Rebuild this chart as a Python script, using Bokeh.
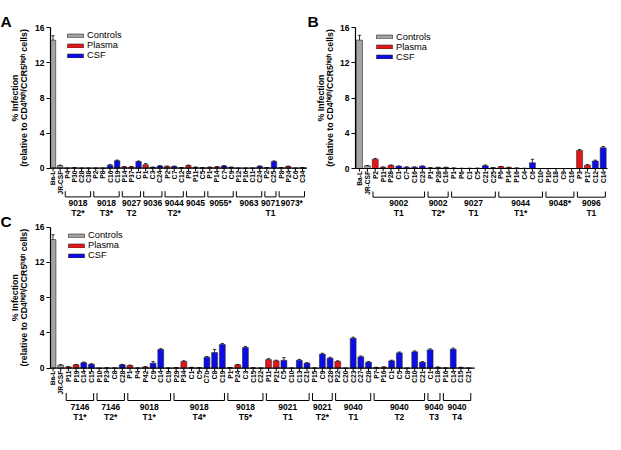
import math
from bokeh.plotting import figure
from bokeh.models import ColumnDataSource, Range1d, FixedTicker
from bokeh.layouts import column, row
from bokeh.embed import file_html
from bokeh.resources import INLINE
from bokeh.core.properties import value

# ---------------- data ----------------
a_labels = ["Ba-L", "JR-CSF",
            "P4", "P30", "C28", "C38",
            "P2", "P8", "C16", "C19",
            "P14", "P37", "C1",
            "P1", "C3", "C24",
            "P2", "C7", "C12",
            "P8", "P11", "C5",
            "P1", "P14", "C7", "C9",
            "P12", "P16", "C11", "C24",
            "P2", "C25",
            "P8", "P24", "C6", "C34"]
a_values = [14.6, 0.3,
            0.0, 0.05, 0.0, 0.0,
            0.0, 0.0, 0.35, 0.85,
            0.15, 0.15, 0.75,
            0.4, 0.1, 0.25,
            0.2, 0.2, 0.05,
            0.3, 0.1, 0.05,
            0.1, 0.15, 0.25, 0.1,
            0.0, 0.0, 0.0, 0.22,
            0.05, 0.75,
            0.05, 0.2, 0.0, 0.05]
a_errors = [0.5, 0.05,
            0.0, 0.02, 0.0, 0.0,
            0.0, 0.0, 0.06, 0.08,
            0.04, 0.04, 0.07,
            0.12, 0.03, 0.05,
            0.05, 0.04, 0.02,
            0.05, 0.03, 0.02,
            0.03, 0.04, 0.05, 0.03,
            0.0, 0.0, 0.0, 0.04,
            0.02, 0.08,
            0.02, 0.04, 0.0, 0.02]
a_groups = [("9018", "T2*", 4), ("9018", "T3*", 4), ("9027", "T2", 3),
            ("9036", "", 3), ("9044", "T2*", 3), ("9045", "", 3),
            ("9055*", "", 4), ("9063", "", 4), ("9071", "T1", 2),
            ("9073*", "", 4)]

b_labels = ["Ba-L", "JR-CSF",
            "P2", "P11", "P28", "C1", "C7", "C16", "C23",
            "P1", "P28", "C16",
            "P1", "P6", "C1", "C5", "C21", "C25",
            "P6", "P14", "P16", "C4", "C6", "C10",
            "P10", "C18", "C9", "C16",
            "P3", "P17", "C12", "C14"]
b_values = [14.6, 0.3,
            1.05, 0.15, 0.35, 0.25, 0.15, 0.15, 0.25,
            0.08, 0.12, 0.12,
            0.05, 0.02, 0.02, 0.03, 0.3, 0.08,
            0.2, 0.12, 0.05, 0.02, 0.65, 0.0,
            0.0, 0.0, 0.0, 0.0,
            2.05, 0.38, 0.85, 2.35]
b_errors = [0.55, 0.05,
            0.1, 0.03, 0.05, 0.04, 0.03, 0.03, 0.04,
            0.02, 0.02, 0.02,
            0.02, 0.0, 0.0, 0.01, 0.1, 0.02,
            0.04, 0.03, 0.02, 0.0, 0.4, 0.0,
            0.0, 0.0, 0.0, 0.0,
            0.1, 0.06, 0.1, 0.15]
b_groups = [("9002", "T1", 7), ("9002", "T2*", 3), ("9027", "T1", 6),
            ("9044", "T1*", 6), ("9048*", "", 4), ("9096", "T1", 4)]

c_labels = ["Ba-L", "JR-CSF",
            "P11", "P19", "C14", "C15",
            "P10", "P23", "C8", "C28",
            "P1", "P4", "P42", "C9", "C14", "C19",
            "P29", "P34", "C1", "C5", "C7b", "C8", "C19",
            "P1", "P24", "C3", "C15", "C22",
            "P11", "P21", "C5", "C10", "C13", "C21",
            "P15", "C9", "C28",
            "P22", "C20", "C23", "C27", "C28",
            "P7", "P16", "C1", "C5", "C8", "C10", "C21",
            "C1", "C18",
            "P16", "C14", "C15", "C21"]
c_values = [14.6, 0.35,
            0.15, 0.38, 0.62, 0.45,
            0.0, 0.03, 0.02, 0.38,
            0.3, 0.02, 0.15, 0.57, 2.12, 0.02,
            0.05, 0.76, 0.08, 0.05, 1.25, 1.78, 2.69,
            0.06, 0.38, 2.35, 0.03, 0.02,
            0.98, 0.83, 0.9, 0.02, 0.9, 0.57,
            0.02, 1.6, 1.14,
            0.76, 0.0, 3.4, 1.29, 0.68,
            0.08, 0.12, 0.83, 1.74, 0.0, 1.86, 0.68,
            2.08, 0.1,
            0.03, 2.16, 0.08, 0.02]
c_errors = [0.55, 0.05,
            0.03, 0.05, 0.08, 0.05,
            0.0, 0.02, 0.0, 0.05,
            0.05, 0.0, 0.03, 0.18, 0.1, 0.0,
            0.02, 0.08, 0.02, 0.02, 0.08, 0.35, 0.12,
            0.02, 0.05, 0.12, 0.02, 0.0,
            0.1, 0.08, 0.3, 0.0, 0.1, 0.06,
            0.0, 0.1, 0.1,
            0.08, 0.0, 0.12, 0.1, 0.07,
            0.02, 0.04, 0.08, 0.1, 0.0, 0.1, 0.06,
            0.12, 0.04,
            0.0, 0.12, 0.03, 0.0]
c_groups = [("7146", "T1*", 4), ("7146", "T2*", 4), ("9018", "T1*", 6),
            ("9018", "T4*", 7), ("9018", "T5*", 5), ("9021", "T1", 6),
            ("9021", "T2*", 3), ("9040", "T1", 5), ("9040", "T2", 7),
            ("9040", "T3", 2), ("9040", "T4", 4)]

legend_names = ["Controls", "Plasma", "CSF"]
y_ticks = [0, 4, 8, 12, 16]
y_title_1 = "% Infection"
y_title_2 = "(relative to CD4ʰⁱᵍʰ/CCR5ʰⁱᵍʰ cells)"

# ---------------- style ----------------
FONT = "Liberation Sans"
COLORS = {"Controls": "#a4a4a4", "Plasma": "#e4161b", "CSF": "#0c0ce6"}
EDGE = "#2a2a2a"
STRIP_L = 32      # width of the left title strip
STRIP_B = 30      # width of the strip in front of panel B


def kind_of(lbl):
    if lbl in ("Ba-L", "JR-CSF"):
        return "Controls"
    return "Plasma" if lbl.startswith("P") else "CSF"


def bare_figure(width, height, x_range, y_range, left=0):
    p = figure(width=width, height=height, output_backend="svg",
               toolbar_location=None, x_axis_location=None,
               x_range=x_range, y_range=y_range,
               min_border_left=left, min_border_right=0,
               min_border_top=0, min_border_bottom=0)
    p.outline_line_color = None
    p.grid.visible = False
    p.background_fill_color = "white"
    p.border_fill_color = "white"
    return p


def make_panel(labels, values, errors, groups, width, height, left,
               zero_px, top_px, step_px, first_px, end_px, offs, legend_xy):
    assert len(labels) == len(values) == len(errors)
    assert 2 + sum(g[2] for g in groups) == len(labels)
    unit = (zero_px - top_px) / 16.0          # pixels per y unit
    y0 = -(height - zero_px) / unit
    y1 = 16 + top_px / unit
    x0 = -(first_px - left) / step_px
    x1 = x0 + (width - left) / step_px
    px = lambda p: p / unit                   # pixel distance -> y units

    p = bare_figure(width, height, Range1d(x0, x1), Range1d(y0, y1), left)

    ax = p.yaxis[0]
    ax.bounds = (0, 16)
    ax.ticker = FixedTicker(ticks=y_ticks)
    ax.axis_line_width = 1.2
    ax.major_tick_line_width = 1.2
    ax.major_tick_out = 4
    ax.major_tick_in = 0
    ax.minor_tick_out = 0
    ax.minor_tick_in = 0
    ax.major_label_standoff = 2
    ax.major_label_text_font = FONT
    ax.major_label_text_font_style = "bold"
    ax.major_label_text_font_size = "8.5px"
    ax.major_label_text_color = "black"

    n = len(labels)
    idx = list(range(n))

    # bars, one renderer per sample type
    for kind in legend_names:
        sel = [i for i in idx if kind_of(labels[i]) == kind]
        src = ColumnDataSource(dict(x=sel, top=[values[i] for i in sel]))
        p.vbar(x="x", top="top", width=0.76, source=src,
               fill_color=COLORS[kind], line_color=EDGE, line_width=0.6,
               legend_label=kind)

    # error bars (upper half only)
    tops = [v + e for v, e in zip(values, errors)]
    cap = 1.6 / step_px
    p.segment(x0=idx, y0=values, x1=idx, y1=tops, line_color="black", line_width=0.8)
    p.segment(x0=[i - cap for i in idx], y0=tops, x1=[i + cap for i in idx], y1=tops,
              line_color="black", line_width=0.8)

    # category axis along y = 0
    end_x = (end_px - first_px) / step_px
    p.segment(x0=[x0], y0=[0], x1=[end_x], y1=[0], line_color="black", line_width=1.2)
    p.segment(x0=idx, y0=[0] * n, x1=idx, y1=[-px(3)] * n, line_color="black", line_width=1)
    p.text(x=idx, y=[-px(2.5)] * n, text=labels, angle=math.pi / 2,
           text_align="right", text_baseline="middle",
           text_font=value(FONT), text_font_style="bold", text_font_size="6.6px",
           text_color="black")

    # patient brackets and their labels
    hook_top, hook_bot, num_y, tier_y = offs
    xs, ys, cx, nums, tiers = [], [], [], [], []
    start = 2
    for name, tier, count in groups:
        a = start - 0.28
        b = start + count - 1 + 0.28
        xs.append([a, a, b, b])
        ys.append([-px(hook_top), -px(hook_bot), -px(hook_bot), -px(hook_top)])
        cx.append((a + b) / 2)
        nums.append(name)
        tiers.append(tier)
        start += count
    p.multi_line(xs=xs, ys=ys, line_color="black", line_width=1)
    for txt, yy in ((nums, num_y), (tiers, tier_y)):
        p.text(x=cx, y=[-px(yy)] * len(cx), text=txt, text_align="center",
               text_baseline="middle", text_font=value(FONT), text_font_style="bold",
               text_font_size="8.5px", text_color="black")

    lg = p.legend[0]
    lg.location = legend_xy
    lg.background_fill_alpha = 0
    lg.border_line_color = None
    lg.padding = 0
    lg.margin = 0
    lg.spacing = 0
    lg.glyph_width = 20
    lg.glyph_height = 5
    lg.label_height = 10
    lg.label_standoff = 2
    lg.label_text_font = FONT
    lg.label_text_font_size = "9.3px"
    lg.label_text_color = "black"
    return p


def title_strip(width, height, letters, titles):
    """Strip holding panel letters and the two-line y titles (y measured downward)."""
    s = bare_figure(width, height, Range1d(0, width), Range1d(-height, 0))
    s.yaxis.visible = False
    for txt, x, y in letters:
        s.text(x=[x], y=[-y], text=[txt], text_align="left", text_baseline="alphabetic",
               text_font=value(FONT), text_font_style="bold", text_font_size="15.5px",
               text_color="black")
    for x1, x2, yc in titles:
        s.text(x=[x1, x2], y=[-yc, -yc], text=[y_title_1, y_title_2], angle=math.pi / 2,
               text_align="center", text_baseline="middle",
               text_font=value(FONT), text_font_style="bold", text_font_size="8.8px",
               text_color="black")
    return s


pA = make_panel(a_labels, a_values, a_errors, a_groups, 307 - STRIP_L, 222, 49 - STRIP_L,
                167.7, 27.3, 7.157, 51.5 - STRIP_L, 307 - STRIP_L,
                (23, 28.7, 34.3, 44.8), (15, 162))
b_left = 307 + STRIP_B
pB = make_panel(b_labels, b_values, b_errors, b_groups, 621 - b_left, 222, 354 - b_left,
                168.0, 27.3, 7.89, 358 - b_left, 607 - b_left,
                (23, 28.7, 34.6, 44.4), (19, 160.5))
pC = make_panel(c_labels, c_values, c_errors, c_groups, 621 - STRIP_L, 228, 49 - STRIP_L,
                145.7, 4.7, 7.71, 51.5 - STRIP_L, 474 - STRIP_L,
                (24.8, 32.3, 38.6, 49.0), (16, 190))

sL = title_strip(STRIP_L, 450, [("A", 0, 20.5), ("C", 0, 220.5)],
                 [(14, 23.5, 97.5), (14, 23.5, 297.2)])
sB = title_strip(STRIP_B, 222, [("B", 0, 21)], [(13, 22.5, 97.5)])

layout = row(sL, column(row(pA, sB, pB, spacing=0), pC, spacing=0), spacing=0)
open("out.html", "w").write(file_html(layout, INLINE))
